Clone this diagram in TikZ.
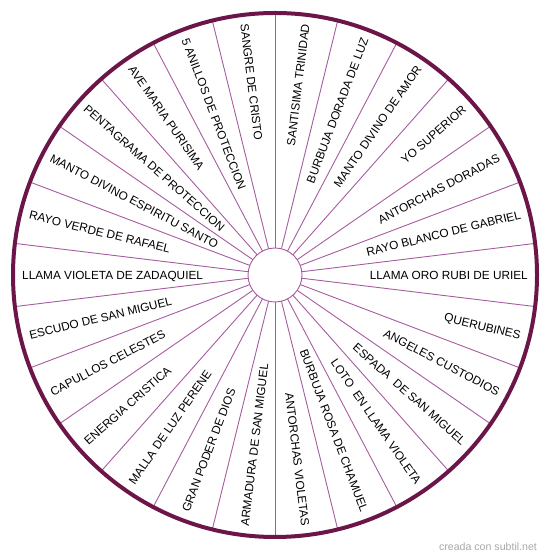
\documentclass[tikz,border=0pt]{standalone}
\usepackage{fontspec}
\setmainfont{Liberation Sans}
\usetikzlibrary{calc}
\definecolor{ringcol}{HTML}{6B1548}
\definecolor{spokecol}{HTML}{A65C9F}
\definecolor{markcol}{HTML}{A8A8A8}
\tikzset{
  spokeline/.style={draw=spokecol, line width=0.9pt},
  ringline/.style={draw=ringcol, line width=4pt},
  hubcircle/.style={draw=spokecol, line width=0.9pt, fill=white},
  lab/.style={inner sep=0pt, text height=8.5pt, text depth=0pt, font=\fontsize{11.8}{12}\selectfont, text=black},
  watermark/.style={inner sep=0pt, text=markcol, font=\fontsize{10.6}{12}\selectfont}
}
\begin{document}
\begin{tikzpicture}[x=1pt,y=1pt]
\useasboundingbox (0,0) rectangle (550,559);
\coordinate (c) at (275,284);
\foreach \k in {0,...,25}{
  \pgfmathsetmacro\a{90+\k*360/26}
  \draw[spokeline] ($(c)+(\a:27)$) -- ($(c)+(\a:262)$);
}
\draw[ringline] (c) circle[radius=262];
\node[hubcircle, circle, minimum size=54pt, inner sep=0pt] (hub) at (c) {};
\foreach \t [count=\k from 0] in {%
SANGRE DE CRISTO,%
5 ANILLOS DE PROTECCION,%
AVE MARIA PURISIMA,%
PENTAGRAMA DE PROTECCION,%
MANTO DIVINO ESPIRITU SANTO,%
RAYO VERDE DE RAFAEL,%
LLAMA VIOLETA DE ZADAQUIEL,%
ESCUDO DE SAN MIGUEL,%
CAPULLOS CELESTES,%
ENERGIA CRISTICA,%
MALLA DE LUZ PERENE,%
GRAN PODER DE DIOS,%
ARMADURA DE SAN MIGUEL,%
ANTORCHAS VIOLETAS,%
BURBUJA ROSA DE CHAMUEL,%
LOTO\ \ EN LLAMA VIOLETA,%
ESPADA\ \ DE SAN MIGUEL,%
ANGELES CUSTODIOS,%
QUERUBINES,%
LLAMA ORO RUBI DE URIEL,%
RAYO BLANCO DE GABRIEL,%
ANTORCHAS DORADAS,%
YO SUPERIOR,%
MANTO DIVINO DE AMOR,%
BURBUJA DORADA DE LUZ,%
SANTISIMA TRINIDAD%
}{
  \pgfmathsetmacro\m{90+(\k+0.5)*360/26}
  \ifnum\k<13
    \node[lab, anchor=west, rotate=\m+180] (lab\k) at ($(c)+(\m:253)$) {\t};
  \else
    \node[lab, anchor=east, rotate=\m] (lab\k) at ($(c)+(\m:253)$) {\t};
  \fi
}
\node[watermark] (mark) at (488,12) {creada con subtil.net};
\end{tikzpicture}
\end{document}
